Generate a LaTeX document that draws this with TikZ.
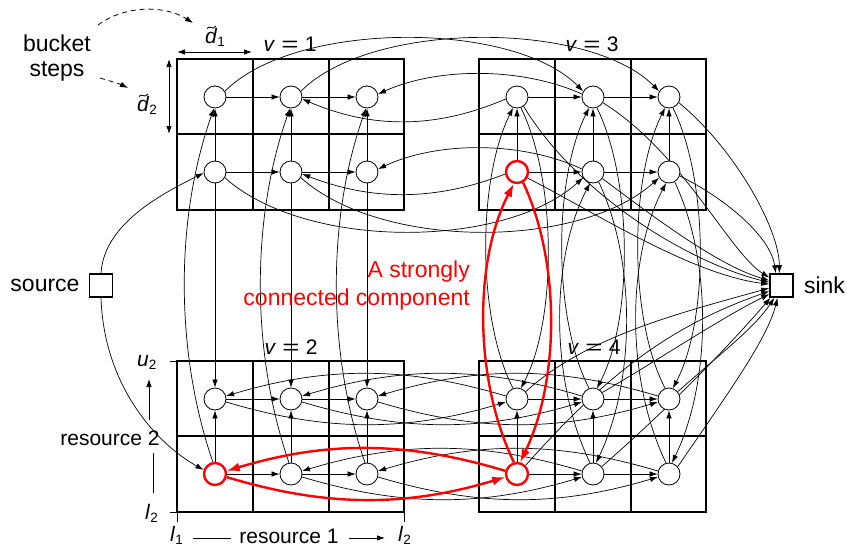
\documentclass[tikz,border=0pt]{standalone}
\usepackage{fontspec}
\usepackage{graphicx}
\setmainfont{Liberation Sans}
\usetikzlibrary{arrows.meta}
\pgfdeclarelayer{bg}
\pgfdeclarelayer{mid}
\pgfsetlayers{bg,mid,main}
\newcommand\veq[1]{\textit{v}\hspace{0.3em}\scalebox{1.4}[1]{=}\hspace{0.3em}#1}
\newcommand\subtxt[1]{\raisebox{-3pt}{\fontsize{13.5}{14}\selectfont #1}}
\begin{document}
\begin{tikzpicture}[x=1pt,y=-1pt,
  grid/.style={line width=2pt},
  bk/.style={circle,draw,fill=white,minimum size=22pt,inner sep=0pt,line width=0.8pt},
  rbk/.style={bk,draw=red,line width=2.4pt},
  ed/.style={line width=0.7pt,-{Latex[length=8pt,width=5.5pt]}},
  red edge/.style={red,line width=2.4pt,-{Latex[length=13pt,width=9pt]}},
  term/.style={draw,line width=1.6pt,minimum size=23pt,inner sep=0pt},
  lab/.style={inner sep=0pt,font=\fontsize{23}{28}\selectfont},
  slab/.style={inner sep=0pt,font=\fontsize{21}{24}\selectfont},
  mlab/.style={inner sep=0pt,font=\fontsize{21}{23}\selectfont},
  vlab/.style={inner sep=0pt,font=\fontsize{21}{23}\selectfont},
  thinln/.style={line width=0.8pt},
  tld/.style={line width=0.9pt},
  dsh/.style={line width=0.8pt,dash pattern=on 5pt off 4pt,-{Latex[length=8pt,width=5.5pt]}},
  dim/.style={line width=0.9pt,{Latex[length=8pt,width=5.5pt]}-{Latex[length=8pt,width=5.5pt]}},
]
\useasboundingbox (0,0) rectangle (847,549);

% ---------- grids ----------
\begin{pgfonlayer}{bg}
\foreach \gx/\gy in {177/59, 177/361, 479/59, 479/361} {
  \draw[grid] (\gx,\gy) rectangle ({\gx+227},{\gy+151});
  \draw[grid] ({\gx+76},\gy) -- ({\gx+76},{\gy+151});
  \draw[grid] ({\gx+152},\gy) -- ({\gx+152},{\gy+151});
  \draw[grid] (\gx,{\gy+75}) -- ({\gx+227},{\gy+75});
}
% ticks
\draw[thinln] (170,361) -- (177,361);
\draw[thinln] (170,512) -- (177,512);
\draw[thinln] (177,512) -- (177,522);
\draw[thinln] (404,512) -- (404,522);
% labels
\node[vlab,anchor=base] (lv1) at (290,51) {\veq{1}};
\node[vlab,anchor=base] (lv3) at (592,51) {\veq{3}};
\node[vlab,anchor=base] (lv2) at (291,354) {\veq{2}};
\node[vlab,anchor=base] (lv4) at (594,354) {\veq{4}};
\end{pgfonlayer}

% ---------- bucket nodes ----------
\foreach \v/\bx/\by/\rs in {1/215/97/bk, 2/215/399/rbk, 3/517/97/rbk, 4/517/399/rbk} {
  \node[\rs] (n\v-1-b) at (\bx,{\by+75}) {};
  \node[bk] (n\v-1-t) at (\bx,\by) {};
  \foreach \i in {2,3} {
    \node[bk] (n\v-\i-t) at ({\bx+76*(\i-1)},\by) {};
    \node[bk] (n\v-\i-b) at ({\bx+76*(\i-1)},{\by+75}) {};
  }
}
\node[term] (src) at (101,285.5) {};
\node[term] (sink) at (781.5,285.5) {};

% ---------- black edges ----------
\begin{pgfonlayer}{mid}
\foreach \v in {1,2,3,4} {
  \foreach \r in {t,b} {
    \draw[ed] (n\v-1-\r) -- (n\v-2-\r);
    \draw[ed] (n\v-2-\r) -- (n\v-3-\r);
  }
  \foreach \i in {1,2,3} {
    \draw[ed] (n\v-\i-b) -- (n\v-\i-t);
  }
}
% v1 <-> v2
\foreach \i in {1,2,3} {
  \draw[ed] (n1-\i-b) -- (n2-\i-t);
  \draw[ed] (n2-\i-b.100) .. controls +(-38,-110) and +(-39,110) .. (n1-\i-t.-95);
}
% v3 <-> v4
\foreach \i in {1,2,3} {
  \draw[ed] (n3-\i-t.-70) .. controls +(36,73) and +(36,-69) .. (n4-\i-t.70);
  \draw[ed] (n4-\i-t.110) .. controls +(-36,-69) and +(-36,73) .. (n3-\i-t.-110);
}
\foreach \i in {2,3} {
  \draw[ed] (n3-\i-b.-60) .. controls +(37,78) and +(40,-83) .. (n4-\i-b.75);
  \draw[ed] (n4-\i-b.105) .. controls +(-40,-83) and +(-40,77) .. (n3-\i-b.-105);
}
% v2 <-> v4
\foreach \i in {1,2,3} {
  \draw[ed] (n4-\i-t.165) .. controls +(-100,-30) and +(100,-30) .. (n2-\i-t.15);
  \draw[ed] (n2-\i-t.-15) .. controls +(100,30) and +(-100,30) .. (n4-\i-t.-165);
}
\foreach \i in {2,3} {
  \draw[ed] (n4-\i-b.165) .. controls +(-100,-30) and +(100,-30) .. (n2-\i-b.15);
  \draw[ed] (n2-\i-b.-15) .. controls +(100,30) and +(-100,30) .. (n4-\i-b.-165);
}
% v1 <-> v3
\draw[ed] (n1-1-t.30) .. controls +(70,-71) and +(-70,-71) .. (n3-2-t.150);
\draw[ed] (n1-2-t.30) .. controls +(70,-71) and +(-70,-71) .. (n3-3-t.150);
\draw[ed] (n3-1-t.190) .. controls +(-70,30) and +(70,30) .. (n1-2-t.-10);
\draw[ed] (n3-2-t.165) .. controls +(-60,-27) and +(60,-27) .. (n1-3-t.15);
\draw[ed] (n3-1-b.190) .. controls +(-70,27) and +(70,27) .. (n1-2-b.-10);
\draw[ed] (n3-2-b.165) .. controls +(-60,-28) and +(60,-28) .. (n1-3-b.15);
\draw[ed] (n1-1-b.-30) .. controls +(80,72) and +(-80,72) .. (n3-2-b.-150);
\draw[ed] (n1-2-b.-30) .. controls +(80,72) and +(-80,72) .. (n3-3-b.-150);
% source
\draw[ed] (src.north) .. controls +(3,-50) and +(-40,20) .. (n1-1-b.185);
\draw[ed] (src.south) .. controls +(3,90) and +(-45,-25) .. (n2-1-b.160);
% to sink from v3
\draw[ed] (n3-3-t.-30) .. controls +(55,45) and +(0,-45) .. (sink.100);
\draw[ed] (n3-3-b.-20) .. controls +(50,25) and +(-5,-35) .. (sink.115);
\draw[ed] (n3-2-t.-30) .. controls +(80,50) and +(-40,-25) .. (sink.147);
\draw[ed] (n3-2-b.-35) .. controls +(60,45) and +(-50,-15) .. (sink.158);
\draw[ed] (n3-1-t.-55) .. controls +(55,90) and +(-80,-20) .. (sink.166);
\draw[ed] (n3-1-b.-30) .. controls +(60,30) and +(-80,-10) .. (sink.174);
% to sink from v4
\draw[ed] (n4-1-t.40) .. controls +(60,-55) and +(-90,25) .. (sink.192);
\draw[ed] (n4-1-b.45) .. controls +(80,-90) and +(-100,35) .. (sink.205);
\draw[ed] (n4-2-t.35) .. controls +(60,-35) and +(-50,25) .. (sink.215);
\draw[ed] (n4-2-b.40) .. controls +(80,-70) and +(-30,35) .. (sink.228);
\draw[ed] (n4-3-t.40) .. controls +(45,-40) and +(-20,30) .. (sink.240);
\draw[ed] (n4-3-b.40) .. controls +(55,-80) and +(-10,40) .. (sink.252);
\end{pgfonlayer}

% ---------- red strongly connected component ----------
\draw[red edge] (n2-1-b.-15) .. controls +(100,30) and +(-100,30) .. (n4-1-b.-165);
\draw[red edge] (n4-1-b.165) .. controls +(-100,-30) and +(100,-30) .. (n2-1-b.15);
\draw[red edge] (n4-1-b.105) .. controls +(-40,-83) and +(-40,77) .. (n3-1-b.-105);
\draw[red edge] (n3-1-b.-60) .. controls +(37,78) and +(40,-83) .. (n4-1-b.75);

% ---------- texts ----------
\node[lab,anchor=east] (srclab) at ([xshift=-9pt]src.west) {source};
\node[lab,anchor=west] (sinklab) at ([xshift=10pt]sink.east) {sink};
\node[lab,anchor=base east,text=red] (scc1) at (470,277) {A strongly};
\node[lab,anchor=base east,text=red] (scc2) at (470,305) {connected component};
\node[lab,anchor=base] (bk1) at (57,51) {bucket};
\node[lab,anchor=base] (bk2) at (57,76) {steps};
\node[mlab,anchor=base west] (d1) at (205,43) {\textit{d}\subtxt{1}};
\node[mlab,anchor=base west] (d2) at (137,111) {\textit{d}\subtxt{2}};
\draw[tld] (207,28.5) .. controls (209.5,24.5) and (212.5,31) .. (216,26);
\draw[tld] (139,96.5) .. controls (141.5,92.5) and (144.5,99) .. (148,94);
\node[mlab,anchor=base west] (u2) at (137,366) {\textit{u}\subtxt{2}};
\node[mlab,anchor=base west] (l2a) at (145,519) {\textit{l}\subtxt{2}};
\node[mlab,anchor=base west] (l1b) at (170,541.5) {\textit{l}\subtxt{1}};
\node[mlab,anchor=base west] (l2b) at (398,541.5) {\textit{l}\subtxt{2}};
\node[slab,anchor=base] (r1) at (289,543) {resource 1};
\node[slab,anchor=base] (r2) at (110,445) {resource 2};

% dimension arrows
\coordinate (dh1) at (177,52); \coordinate (dh2) at (252,52);
\coordinate (dv1) at (169,59); \coordinate (dv2) at (169,134);
\draw[dim] (dh1) -- (dh2);
\draw[dim] (dv1) -- (dv2);
% dashed pointers
\coordinate (ds1) at (98,25); \coordinate (de1) at (193,23);
\coordinate (ds2) at (100,78); \coordinate (de2) at (128,88);
\draw[dsh] (ds1) .. controls (125,5) and (165,5) .. (de1);
\draw[dsh] (ds2) .. controls (110,81) and (120,84) .. (de2);
% axes
\coordinate (ra1) at (193,538); \coordinate (ra2) at (231,538);
\coordinate (rb1) at (349,538); \coordinate (rb2) at (385,538);
\draw[thinln] (ra1) -- (ra2);
\draw[thinln,-{Latex[length=8pt,width=5.5pt]}] (rb1) -- (rb2);
\coordinate (qa1) at (149,420); \coordinate (qa2) at (149,379);
\coordinate (qb1) at (153,453); \coordinate (qb2) at (153,493);
\draw[thinln,-{Latex[length=8pt,width=5.5pt]}] (qa1) -- (qa2);
\draw[thinln] (qb1) -- (qb2);
\end{tikzpicture}
\end{document}
